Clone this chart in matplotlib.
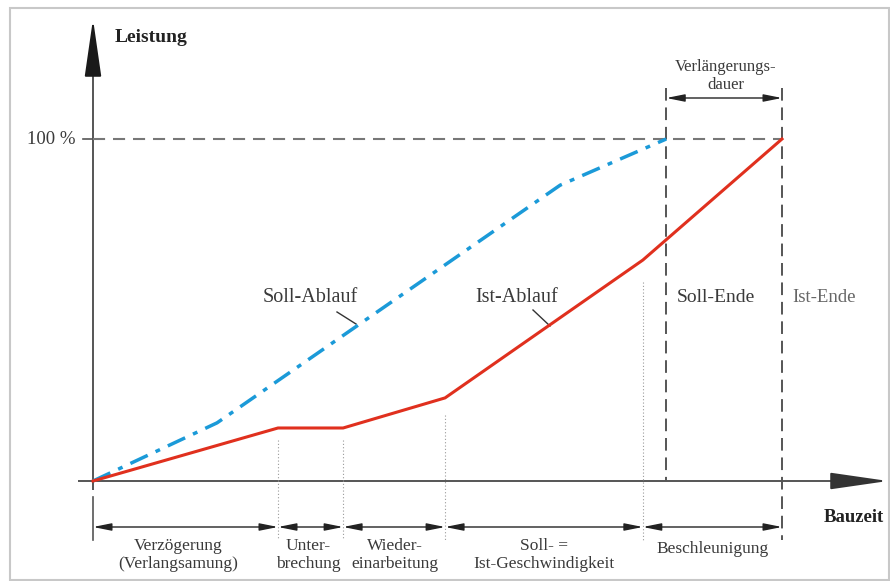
import matplotlib
matplotlib.use("Agg")
import matplotlib.pyplot as plt
from matplotlib.patches import Rectangle

plt.rcParams['font.family'] = ['Liberation Serif', 'DejaVu Serif']

# ---------------- data (time in % of Ist-Bauzeit, Leistung in %) ----------------
ist_t = [0, 26.85, 36.3, 51.1, 79.8, 100]
ist_v = [0, 15.5, 15.5, 24.3, 64.6, 100]

soll_t = [0, 18.0, 67.8, 83.2]
soll_v = [0, 17.0, 86.5, 100]

phase_bounds = [0, 26.85, 36.3, 51.1, 79.8, 100]
phase_labels = ["Verzögerung\n(Verlangsamung)", "Unter-\nbrechung", "Wieder-\neinarbeitung",
                "Soll- =\nIst-Geschwindigkeit", "Beschleunigung"]
soll_end = 83.2
ist_end = 100
full = 100

# ---------------- pixel <-> data mapping (layout) ----------------
W, H = 890, 581
X0, XS = 93, 6.89     # origin px, px per time unit
Y0, YS = 481, 3.42    # origin px, px per %

def dx(px):  # pixel x -> data
    return (px - X0) / XS

def dy(py):  # pixel y -> data
    return (Y0 - py) / YS

fig = plt.figure(figsize=(W / 100, H / 100), dpi=100)
ax = fig.add_axes([0, 0, 1, 1])
ax.set_xlim(dx(0), dx(W))
ax.set_ylim(dy(H), dy(0))
ax.axis('off')

txt = '#3a3a3a'
axc = '#555555'

# frame
fig.patches.append(Rectangle((10 / W, 1 / H), (W - 11) / W, (H - 9) / H, transform=fig.transFigure,
                             fill=False, edgecolor='#c8c8c8', lw=1.5))

# axes lines
ax.plot([dx(93), dx(93)], [dy(490), dy(60)], color=axc, lw=1.4, solid_capstyle='butt')
ax.plot([dx(78), dx(840)], [0, 0], color=axc, lw=1.4, solid_capstyle='butt')
ax.annotate('', xy=(dx(93), dy(19)), xytext=(dx(93), dy(72)),
            arrowprops=dict(arrowstyle='-|>,head_length=3.6,head_width=0.52', color='#1a1a1a',
                            lw=1.4, shrinkA=0, shrinkB=0, mutation_scale=10))
ax.annotate('', xy=(dx(888), 0), xytext=(dx(833), 0),
            arrowprops=dict(arrowstyle='-|>,head_length=3.6,head_width=0.52', color='#333333',
                            lw=1.4, shrinkA=0, shrinkB=0, mutation_scale=10))

# 100% tick and dashed reference lines
ax.plot([dx(83), dx(93)], [full, full], color=axc, lw=1.2)
ax.plot([0, ist_end], [full, full], color='#777777', lw=1.5, dashes=(5.8, 3.8))
ax.plot([soll_end, soll_end], [dy(88), 0], color='#555555', lw=1.4, dashes=(6.5, 3.5))
ax.plot([ist_end, ist_end], [dy(88), dy(540)], color='#555555', lw=1.4, dashes=(6.5, 3.5))

# dotted phase separators
dot_tops = [440, 440, 415, 282]
for b, top in zip(phase_bounds[1:5], dot_tops):
    ax.plot([b, b], [dy(top), dy(540)], color='#9a9a9a', lw=0.8, dashes=(1, 2))

# curves
ax.plot(soll_t, soll_v, color='#1b9ad8', lw=2.5, dashes=(5.5, 2.5, 1.4, 2.5), zorder=5)
ax.plot(ist_t, ist_v, color='#e0301e', lw=2.2, zorder=6, solid_joinstyle='round')

# bottom dimension line
ax.plot([0, 0], [dy(497), dy(540)], color=axc, lw=1.2)
yd = dy(527)
for a, b in zip(phase_bounds[:-1], phase_bounds[1:]):
    ax.annotate('', xy=(a, yd), xytext=(b, yd),
                arrowprops=dict(arrowstyle='<|-|>,head_length=1.1,head_width=0.22', color='#222222',
                                lw=1.0, shrinkA=0, shrinkB=0, mutation_scale=10))
centers = [178, 308, 395, 544, 713]
for c, lab in zip(centers, phase_labels):
    ypx = 555 if '\n' in lab else 549
    ax.text(dx(c), dy(ypx), lab, ha='center', va='center', fontsize=12.5, color=txt,
            linespacing=1.2)

# Verlängerungsdauer dimension
ax.annotate('', xy=(soll_end, dy(98)), xytext=(ist_end, dy(98)),
            arrowprops=dict(arrowstyle='<|-|>,head_length=1.1,head_width=0.22', color='#222222',
                            lw=1.0, shrinkA=0, shrinkB=0, mutation_scale=10))
ax.text(dx(726), dy(76), "Verlängerungs-\ndauer", ha='center', va='center', fontsize=12,
        color=txt, linespacing=1.1)

# axis labels
ax.text(dx(115), dy(37), "Leistung", ha='left', va='center', fontsize=14, fontweight='bold',
        color='#222222')
ax.text(dx(854), dy(518), "Bauzeit", ha='center', va='center', fontsize=13.5, fontweight='bold',
        color='#222222')
ax.text(dx(76), full, "100 %", ha='right', va='center', fontsize=13.5, color=txt)

# curve labels with leader lines
ax.text(dx(310), dy(298), "Soll-Ablauf", ha='center', va='center', fontsize=14.5, color=txt)
ax.plot([dx(337), dx(356)], [dy(312), dy(324)], color='#333333', lw=1.0)
ax.text(dx(517), dy(298), "Ist-Ablauf", ha='center', va='center', fontsize=14.5, color=txt)
ax.plot([dx(533), dx(550)], [dy(310), dy(326)], color='#333333', lw=1.0)

ax.text(dx(716), dy(298), "Soll-Ende", ha='center', va='center', fontsize=14, color=txt)
ax.text(dx(824), dy(298), "Ist-Ende", ha='center', va='center', fontsize=13.5, color='#666666')

fig.savefig("out.png", dpi=100)
